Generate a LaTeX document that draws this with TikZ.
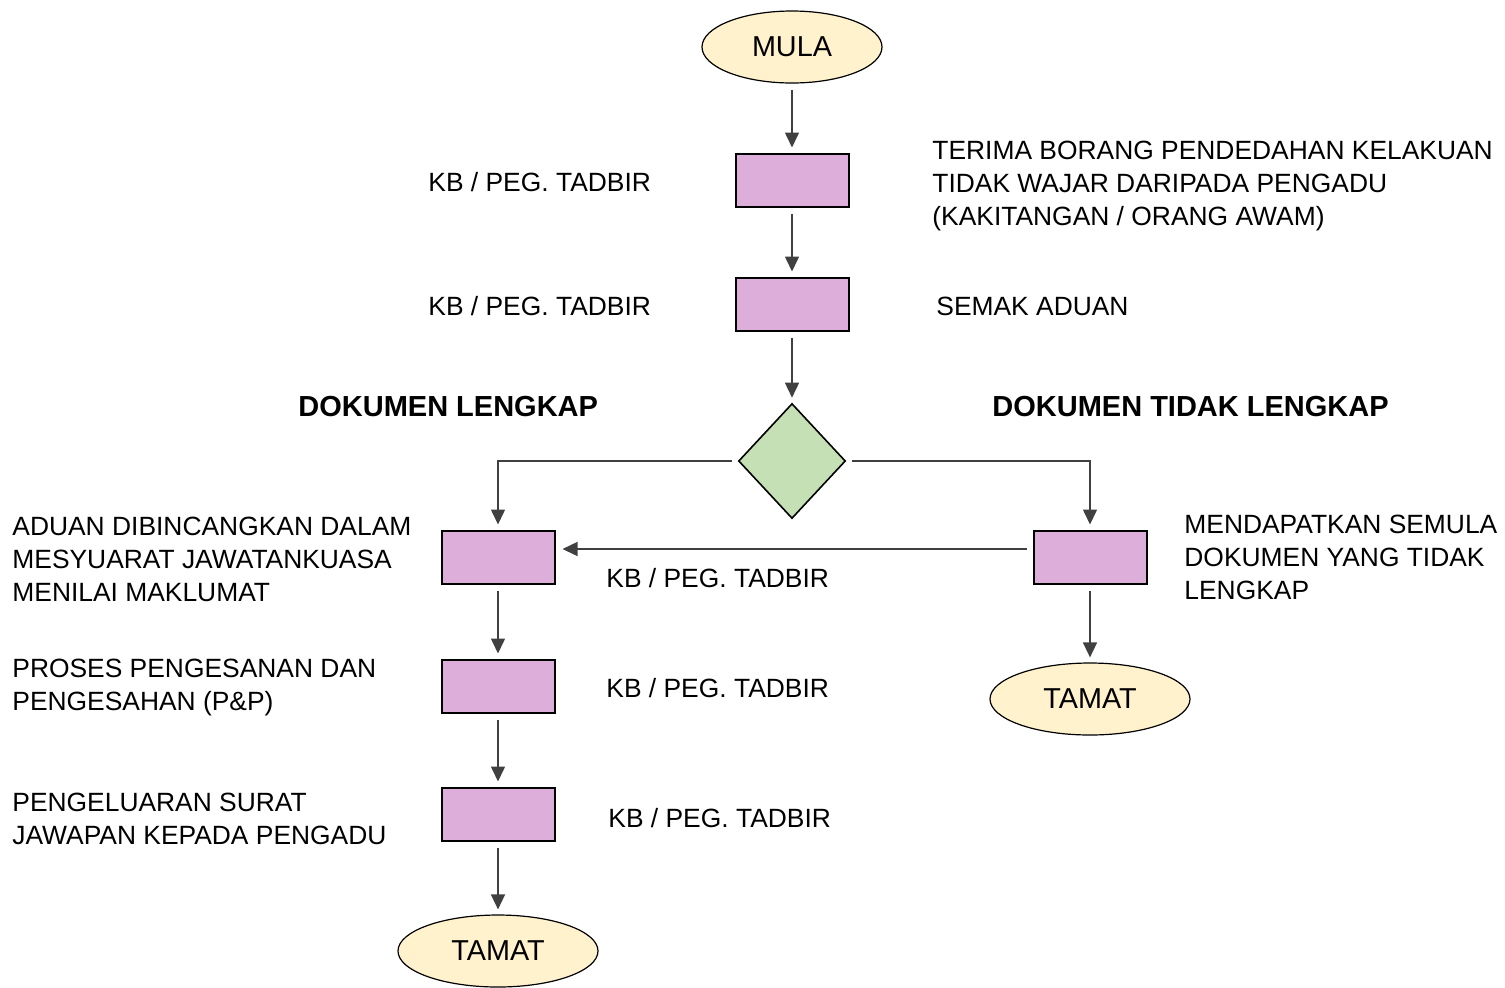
\documentclass[tikz,border=0pt]{standalone}
\usepackage{fontspec}
\setmainfont{Liberation Sans}
\usetikzlibrary{shapes,arrows.meta,positioning}
\definecolor{boxpink}{HTML}{DDAEDA}
\definecolor{diagreen}{HTML}{C5E0B4}
\definecolor{endyellow}{HTML}{FFF2CC}
\definecolor{linegray}{HTML}{404040}
\begin{document}
\begin{tikzpicture}[x=0.5pt,y=-0.5pt,>={Triangle[length=7.5pt,width=7pt]},
    proc/.style={draw,line width=1pt,fill=boxpink,minimum width=56.5pt,minimum height=26.5pt,inner sep=0pt},
    decide/.style={diamond,draw,line width=0.8pt,fill=diagreen,minimum width=53.5pt,minimum height=57.5pt,inner sep=0pt},
    term/.style={ellipse,draw,line width=0.6pt,fill=endyellow,minimum height=36pt,inner sep=0pt,font=\fontsize{14.4}{17}\selectfont},
    lbl/.style={anchor=west,inner sep=0pt,align=left,font=\fontsize{13.2}{16.5}\selectfont},
    head/.style={anchor=west,inner sep=0pt,font=\fontsize{14.5}{17}\selectfont\bfseries},
    flow/.style={->,draw=linegray,line width=0.75pt,shorten <=3pt,shorten >=2.5pt}]
  \useasboundingbox (0,0) rectangle (1505,987);
  % shapes
  \node[term,minimum width=90pt] (mula) at (792,47) {MULA};
  \node[proc] (terima) at (792,180) {};
  \node[proc] (semak) at (792,304) {};
  \node[decide] (lengkap) at (792,461) {};
  \node[proc] (mesyuarat) at (498,557) {};
  \node[proc] (semula) at (1090,557) {};
  \node[proc] (pnp) at (498,686) {};
  \node[proc] (surat) at (498,814) {};
  \node[term,minimum width=100pt] (tamatA) at (498,951) {TAMAT};
  \node[term,minimum width=100pt] (tamatB) at (1090,699) {TAMAT};
  % texts
  \node[lbl] (kb1) at (428,182) {KB / PEG. TADBIR};
  \node[lbl] (t1) at (932,186) {TERIMA BORANG PENDEDAHAN KELAKUAN\\TIDAK WAJAR DARIPADA PENGADU\\(KAKITANGAN / ORANG AWAM)};
  \node[lbl] (kb2) at (428,306) {KB / PEG. TADBIR};
  \node[lbl] (t2) at (936,306) {SEMAK ADUAN};
  \node[head] (ya) at (298,407) {DOKUMEN LENGKAP};
  \node[head] (tidak) at (992,407) {DOKUMEN TIDAK LENGKAP};
  \node[lbl] (t3) at (12,559) {ADUAN DIBINCANGKAN DALAM\\MESYUARAT JAWATANKUASA\\MENILAI MAKLUMAT};
  \node[lbl] (kb3) at (606,578) {KB / PEG. TADBIR};
  \node[lbl] (t4) at (1184,557) {MENDAPATKAN SEMULA\\DOKUMEN YANG TIDAK\\LENGKAP};
  \node[lbl] (t5) at (12,688) {PROSES PENGESANAN DAN\\PENGESAHAN (P\&P)};
  \node[lbl] (kb4) at (606,688) {KB / PEG. TADBIR};
  \node[lbl] (t6) at (12,819) {PENGELUARAN SURAT\\JAWAPAN KEPADA PENGADU};
  \node[lbl] (kb5) at (608,818) {KB / PEG. TADBIR};
  % connectors
  \draw[flow] (mula) -- (terima);
  \draw[flow] (terima) -- (semak);
  \draw[flow] (semak) -- (lengkap);
  \draw[flow] (lengkap.west) -| (mesyuarat.north);
  \draw[flow] (lengkap.east) -| (semula.north);
  \draw[flow,shorten >=3.5pt] ([yshift=4pt]semula.west) -- ([yshift=4pt]mesyuarat.east);
  \draw[flow] (mesyuarat) -- (pnp);
  \draw[flow] (pnp) -- (surat);
  \draw[flow] (surat) -- (tamatA);
  \draw[flow] (semula) -- (tamatB);
\end{tikzpicture}
\end{document}
